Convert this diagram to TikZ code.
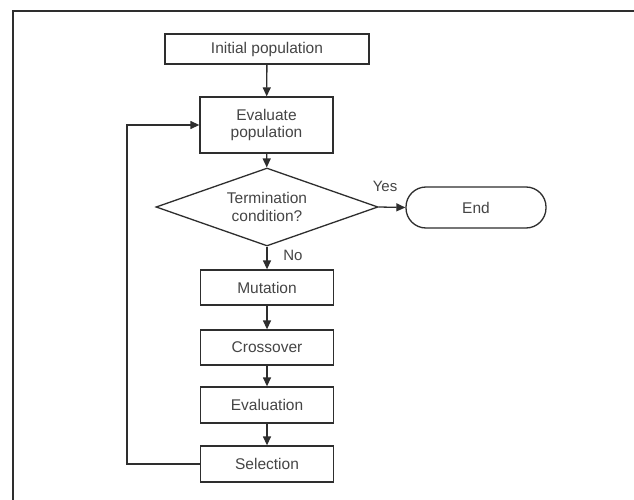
\documentclass[tikz,border=0pt]{standalone}
\usepackage{fontspec}
\setmainfont{Liberation Sans}
\usetikzlibrary{shapes.geometric,arrows.meta}
\definecolor{linec}{HTML}{2E2E2E}
\definecolor{textc}{HTML}{454545}
\begin{document}
\begin{tikzpicture}[x=1pt,y=-1pt,
  every node/.style={font=\fontsize{15.5}{17.5}\selectfont, text=textc, align=center},
  procbox/.style={draw=linec, line width=1.3pt, rectangle, inner sep=0pt},
  decbox/.style={draw=linec, line width=1.3pt, diamond, aspect=2.85, inner sep=0pt, minimum width=222pt, minimum height=78pt},
  endbox/.style={draw=linec, line width=1.3pt, rectangle, rounded corners=20pt, inner sep=0pt, minimum width=140pt, minimum height=41pt},
  conn/.style={draw=linec, line width=1.3pt, -{Triangle[length=9pt,width=8pt]}},
  lbl/.style={font=\fontsize{15}{17}\selectfont}
]
\useasboundingbox (0,0) rectangle (634,500);
\fill[white] (0,0) rectangle (634,500);
\draw[linec, line width=2pt] (13,500) -- (13,11) -- (634,11);

\node[procbox, minimum width=204pt, minimum height=30pt] (init) at (267,49) {Initial population};
\node[procbox, minimum width=133pt, minimum height=56pt] (evalp) at (266.5,125) {Evaluate\\population};
\node[decbox] (term) at (267,207) {Termination\\condition?};
\node[endbox] (end) at (476,207.5) {End};
\node[procbox, minimum width=133pt, minimum height=35pt] (mut) at (267,287.5) {Mutation};
\node[procbox, minimum width=133pt, minimum height=35pt] (cross) at (267,347.5) {Crossover};
\node[procbox, minimum width=133pt, minimum height=36pt] (evaln) at (267,405) {Evaluation};
\node[procbox, minimum width=133pt, minimum height=36pt] (sel) at (267,464) {Selection};

\coordinate (lb) at (127,464);
\coordinate (lt) at (127,125);

\draw[conn] (init) -- (evalp);
\draw[conn] (evalp) -- (term);
\draw[conn] (term.east) -- (end.west);
\draw[conn] (term.south) -- (mut.north);
\draw[conn] (mut) -- (cross);
\draw[conn] (cross) -- (evaln);
\draw[conn] (evaln) -- (sel);
\draw[conn] (sel.west) -- (lb) -- (lt) -- (evalp.west);

\node[lbl] (yes) at (385,186) {Yes};
\node[lbl] (no) at (293,255) {No};
\end{tikzpicture}
\end{document}
